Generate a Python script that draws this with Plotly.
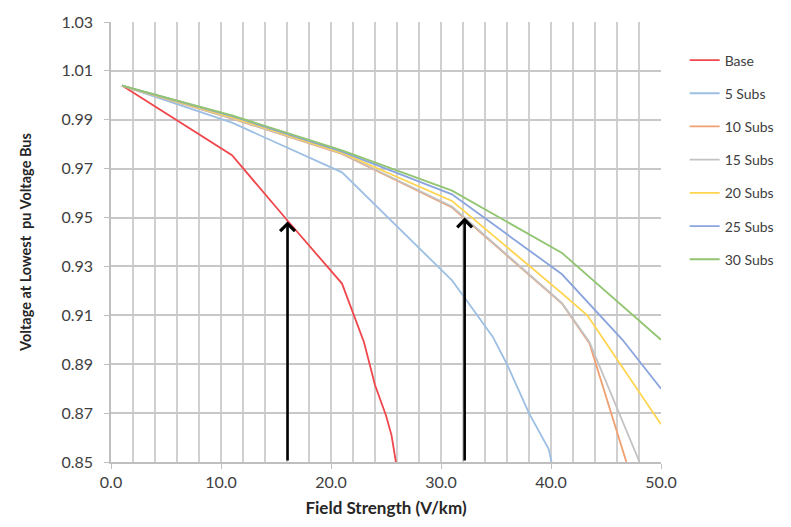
import plotly.graph_objects as go

# ---- data ----
series_names = ["Base", "5 Subs", "10 Subs", "15 Subs", "20 Subs", "25 Subs", "30 Subs"]

base_x = [1, 11, 16, 21, 22, 23, 24, 25, 25.5, 25.9]
base_y = [1.004, 0.9755, 0.949, 0.923, 0.911, 0.899, 0.8815, 0.869, 0.861, 0.850]

subs5_x = [1, 11, 21, 31, 32.2, 34.7, 36, 38, 39.8, 40.05]
subs5_y = [1.004, 0.9888, 0.9685, 0.9243, 0.9169, 0.9013, 0.8900, 0.870, 0.8552, 0.850]

subs10_x = [1, 11, 21, 31, 41, 43.5, 46.85]
subs10_y = [1.004, 0.9905, 0.976, 0.9541, 0.9148, 0.8985, 0.850]

subs15_x = [1, 11, 21, 31, 41, 43.5, 48.05]
subs15_y = [1.004, 0.9906, 0.9762, 0.9545, 0.915, 0.899, 0.850]

subs20_x = [1, 11, 21, 31, 41, 43.3, 50]
subs20_y = [1.004, 0.991, 0.9765, 0.9568, 0.919, 0.910, 0.8654]

subs25_x = [1, 11, 21, 31, 41, 44, 46.5, 50]
subs25_y = [1.004, 0.9915, 0.977, 0.9595, 0.9268, 0.912, 0.900, 0.880]

subs30_x = [1, 11, 21, 31, 41, 50]
subs30_y = [1.004, 0.9918, 0.9775, 0.961, 0.9355, 0.900]

arrow_x = [16.05, 32.15]
arrow_tip_y = [0.9484, 0.9500]
arrow_base_y = [0.85, 0.85]

x_ticks = [0, 10, 20, 30, 40, 50]
y_ticks = [0.85, 0.87, 0.89, 0.91, 0.93, 0.95, 0.97, 0.99, 1.01, 1.03]

colors = ["#F0474C", "#9DBFE3", "#F0A070", "#C2C2C2", "#FFD44D", "#8AA4DE", "#92C571"]

xs = [base_x, subs5_x, subs10_x, subs15_x, subs20_x, subs25_x, subs30_x]
ys = [base_y, subs5_y, subs10_y, subs15_y, subs20_y, subs25_y, subs30_y]

fig = go.Figure()
for name, x, y, c in zip(series_names, xs, ys, colors):
    fig.add_trace(go.Scatter(x=x, y=y, mode="lines", name=name, legendgroup=name,
                             line=dict(color=c, width=1.8), cliponaxis=True))

for ax_, tip, base in zip(arrow_x, arrow_tip_y, arrow_base_y):
    fig.add_annotation(x=ax_, y=tip, ax=ax_, ay=base, xref="x", yref="y",
                       axref="x", ayref="y", text="", showarrow=True,
                       arrowhead=4, arrowsize=1.1, arrowwidth=2.6,
                       arrowcolor="black", standoff=0, startstandoff=0)

font_family = "Lato"
fig.update_layout(
    width=791, height=527,
    margin=dict(l=111, r=124, t=20, b=64),
    paper_bgcolor="white", plot_bgcolor="white",
    font=dict(family=font_family, color="#404040", size=16),
    showlegend=True,
    legend=dict(x=1.043, y=0.949, xanchor="left", yanchor="top",
                font=dict(size=14, color="#404040", family=font_family),
                tracegroupgap=12, bgcolor="rgba(0,0,0,0)"),
    xaxis=dict(range=[0, 50], tickvals=x_ticks, tickformat=".1f",
               showgrid=True, gridcolor="#D0D0D0", gridwidth=1.5,
               minor=dict(dtick=2, showgrid=True, gridcolor="#D0D0D0", gridwidth=1.5),
               showline=True, linecolor="#BFBFBF", linewidth=1.5,
               ticks="outside", ticklen=5, tickcolor="#BFBFBF",
               tickfont=dict(size=16, color="#404040"),
               zeroline=False,
               title=dict(text="<b>Field Strength (V/km)</b>", standoff=12,
                          font=dict(size=17, color="#262626"))),
    yaxis=dict(range=[0.85, 1.03], tickvals=y_ticks, tickformat=".2f",
               showgrid=True, gridcolor="#C8C8C8", gridwidth=1.5,
               showline=True, linecolor="#BFBFBF", linewidth=1.5,
               ticks="outside", ticklen=5, tickcolor="#BFBFBF",
               ticklabelstandoff=8,
               tickfont=dict(size=16, color="#404040"),
               zeroline=False,
               title=dict(text="<b>Voltage at Lowest  pu Voltage Bus</b>", standoff=26,
                          font=dict(size=14.5, color="#262626"))),
)

# remove the browser's default 8px page margin so the figure fills the window exactly
fig.write_html("out.html",
               config={"displayModeBar": False},
               post_script="document.body.style.margin='0';document.body.style.overflow='hidden';")
